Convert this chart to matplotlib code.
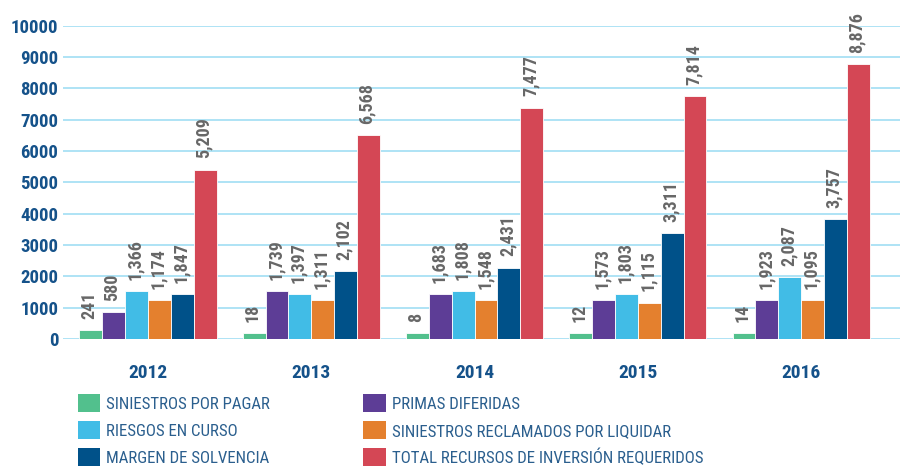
import numpy as np
import matplotlib.pyplot as plt
from matplotlib.patches import Patch

years = ["2012", "2013", "2014", "2015", "2016"]
series = [
    "SINIESTROS POR PAGAR",
    "PRIMAS DIFERIDAS",
    "RIESGOS EN CURSO",
    "SINIESTROS RECLAMADOS POR LIQUIDAR",
    "MARGEN DE SOLVENCIA",
    "TOTAL RECURSOS DE INVERSIÓN REQUERIDOS",
]
colors = ["#52c08d", "#5d3d96", "#41bce6", "#e4802e", "#005189", "#d44755"]

# bar heights as drawn in the picture
siniestros_pagar = [270, 190, 190, 190, 190]
primas_diferidas = [850, 1520, 1420, 1230, 1230]
riesgos_curso = [1520, 1420, 1520, 1420, 1970]
siniestros_reclamados = [1230, 1230, 1230, 1160, 1230]
margen_solvencia = [1420, 2160, 2280, 3370, 3820]
total_recursos = [5410, 6510, 7390, 7750, 8780]

# printed labels
lbl_siniestros_pagar = ["241", "18", "8", "12", "14"]
lbl_primas_diferidas = ["580", "1,739", "1,683", "1,573", "1,923"]
lbl_riesgos_curso = ["1,366", "1,397", "1,808", "1,803", "2,087"]
lbl_siniestros_reclamados = ["1,174", "1,311", "1,548", "1,115", "1,095"]
lbl_margen_solvencia = ["1,847", "2,102", "2,431", "3,311", "3,757"]
lbl_total_recursos = ["5,209", "6,568", "7,477", "7,814", "8,876"]

heights = [siniestros_pagar, primas_diferidas, riesgos_curso,
           siniestros_reclamados, margen_solvencia, total_recursos]
labels = [lbl_siniestros_pagar, lbl_primas_diferidas, lbl_riesgos_curso,
          lbl_siniestros_reclamados, lbl_margen_solvencia, lbl_total_recursos]

FONT = ["Roboto Condensed", "Liberation Sans", "DejaVu Sans"]
plt.rcParams["font.family"] = FONT
BLUE = "#15528a"

fig = plt.figure(figsize=(9, 4.7), dpi=100)
ax = fig.add_axes([0.07, 0.279, 0.93, 0.666])

x = np.arange(len(years))
w = 0.14
for i, (h, lb) in enumerate(zip(heights, labels)):
    pos = x + (i - 2.5) * w
    ax.bar(pos, h, w, color=colors[i], edgecolor="white", linewidth=0.6, zorder=3)
    for px, py, t in zip(pos, h, lb):
        ax.annotate(t, (px, py), xytext=(-1, 8), textcoords="offset points",
                    rotation=90, ha="center", va="bottom", fontsize=13,
                    fontweight="bold", color="#676767", zorder=4)

ax.set_ylim(0, 10000)
ax.set_xlim(-0.52, 4.605)
ax.set_yticks(range(0, 10001, 1000))
ax.yaxis.grid(True, color="#aee3f5", linewidth=1.4, zorder=0)
ax.set_xticks(x)
ax.set_xticklabels(years, fontsize=14, fontweight="bold", color=BLUE)
ax.set_yticklabels([str(v) for v in range(0, 10001, 1000)], fontsize=13.5,
                   fontweight="bold", color=BLUE)
ax.tick_params(axis="both", length=0)
ax.tick_params(axis="x", pad=18)
ax.tick_params(axis="y", pad=3.5)
for s in ax.spines.values():
    s.set_visible(False)

order = [0, 2, 4, 1, 3, 5]
handles = [Patch(facecolor=colors[i], label=series[i]) for i in order]
leg = fig.legend(handles=handles, loc="upper left", ncol=2,
                 bbox_to_anchor=(0.087, 0.162), frameon=False,
                 prop={"size": 12.2},
                 handlelength=1.3, handleheight=1.3, handletextpad=0.36,
                 labelspacing=0.5, columnspacing=5.5, borderpad=0, borderaxespad=0)
for t in leg.get_texts():
    t.set_color("#2b5f8e")

fig.savefig("out.png", dpi=100)
